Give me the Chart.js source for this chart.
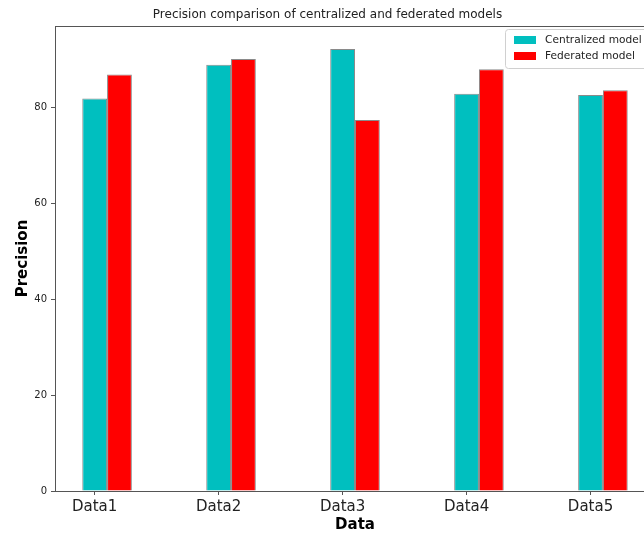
<!DOCTYPE html>
<html>
<head>
<meta charset="utf-8">
<script src="https://cdn.jsdelivr.net/npm/chart.js@4/dist/chart.umd.min.js"></script>
<style>
  html, body { margin: 0; padding: 0; overflow: hidden; background: #fff; }
  canvas { display: block; }
</style>
</head>
<body>
<canvas id="precisionChart" width="680" height="539"></canvas>
<script>
// dados
const categories = ['Data1', 'Data2', 'Data3', 'Data4', 'Data5'];
const centralized = [81.8, 88.8, 92.1, 82.8, 82.5];
const federated = [86.8, 90.0, 77.3, 87.9, 83.5];
const yTicks = [0, 20, 40, 60, 80];
const seriesNames = ['Centralized model', 'Federated model'];
const seriesColors = ['#00bfbf', '#ff0000'];

const toPoints = (vals) => vals.map((v, i) => ({ x: i, y: v }));

// moldura do eixo (spines) e legenda estilo matplotlib
const framePlugin = {
    id: 'frame',
    afterDraw(chart) {
        const { ctx, chartArea: a } = chart;
        ctx.save();
        ctx.strokeStyle = '#555';
        ctx.lineWidth = 1;
        ctx.strokeRect(Math.round(a.left) + 0.5, Math.round(a.top) + 0.5, a.right - a.left, a.bottom - a.top);

        // legenda
        const bx = 505, by = 29, bw = 143, bh = 39;
        ctx.fillStyle = 'rgba(255,255,255,0.85)';
        ctx.strokeStyle = '#d0d0d0';
        ctx.beginPath();
        ctx.roundRect(bx + 0.5, by + 0.5, bw, bh, 3);
        ctx.fill();
        ctx.stroke();
        ctx.font = '10.6px "DejaVu Sans"';
        ctx.textBaseline = 'middle';
        seriesNames.forEach((name, i) => {
            const cy = by + 11 + i * 16;
            ctx.fillStyle = seriesColors[i];
            ctx.fillRect(514, cy - 4, 22, 8);
            ctx.fillStyle = '#222';
            ctx.fillText(name, 545, cy);
        });
        ctx.restore();
    }
};

new Chart(document.getElementById('precisionChart'), {
    type: 'bar',
    data: {
        datasets: [
            {
                label: seriesNames[0],
                data: toPoints(centralized),
                backgroundColor: seriesColors[0],
                borderColor: '#8a8a8a',
                borderWidth: 1
            },
            {
                label: seriesNames[1],
                data: toPoints(federated),
                backgroundColor: seriesColors[1],
                borderColor: '#8a8a8a',
                borderWidth: 1
            }
        ]
    },
    options: {
        responsive: false,
        animation: false,
        devicePixelRatio: 1,
        categoryPercentage: 0.4,
        barPercentage: 1.0,
        layout: { padding: { left: 0, right: 25, top: 0, bottom: 0 } },
        plugins: {
            legend: { display: false },
            tooltip: { enabled: false },
            title: {
                display: true,
                text: 'Precision comparison of centralized and federated models',
                color: '#222',
                font: { family: 'DejaVu Sans', size: 12, weight: 'normal' },
                padding: { top: 8, bottom: 3.6 }
            }
        },
        scales: {
            x: {
                type: 'linear',
                min: -0.42,
                max: 4.42,
                offset: false,
                // o tick fica no centro da barra "Centralized" (como no matplotlib)
                afterBuildTicks: s => {
                    s.ticks = categories.map((c, i) => ({ value: i - 0.1 }));
                },
                afterFit: s => { s.height = 48; },
                grid: { display: true, offset: false, drawOnChartArea: false, drawTicks: true, tickLength: 4, color: '#555' },
                border: { display: true, color: '#555' },
                ticks: {
                    color: '#222',
                    padding: 3,
                    maxRotation: 0,
                    autoSkip: false,
                    font: { family: 'DejaVu Sans', size: 15 },
                    callback: (v, idx) => categories[idx]
                },
                title: {
                    display: true,
                    text: 'Data',
                    color: '#000',
                    font: { family: 'DejaVu Sans', size: 15, weight: 'bold' },
                    padding: { top: 0, bottom: 5 }
                }
            },
            y: {
                min: 0,
                max: 96.9,
                afterBuildTicks: s => { s.ticks = yTicks.map(v => ({ value: v })); },
                afterFit: s => { s.width = 55; },
                grid: { display: true, drawOnChartArea: false, drawTicks: true, tickLength: 4, color: '#555' },
                border: { display: true, color: '#555' },
                ticks: {
                    color: '#222',
                    padding: 4,
                    font: { family: 'DejaVu Sans', size: 10 }
                },
                title: {
                    display: true,
                    text: 'Precision',
                    color: '#000',
                    font: { family: 'DejaVu Sans', size: 15, weight: 'bold' },
                    padding: { top: 14.5, bottom: 0 }
                }
            }
        }
    },
    plugins: [framePlugin]
});
</script>
</body>
</html>
